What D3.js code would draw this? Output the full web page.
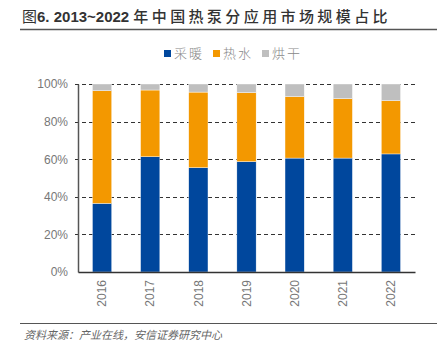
<!DOCTYPE html>
<meta charset="utf-8">
<style>
body { margin: 0; background: #fff; }
text { font-family: "Liberation Sans", Arial, "Noto Sans CJK SC", sans-serif; }
</style>
<svg width="444" height="349"></svg>
<script src="https://d3js.org/d3.v7.min.js"></script>
<script>
// data (percent)
var years = ["2016", "2017", "2018", "2019", "2020", "2021", "2022"];
var heating = [36.5, 61.3, 55.5, 58.7, 60.6, 60.6, 62.8];
var hotWater = [59.9, 35.5, 40.2, 36.7, 32.7, 31.6, 28.3];
var drying = [3.6, 3.2, 4.3, 4.6, 6.7, 7.8, 8.9];
var seriesNames = ["采暖", "热水", "烘干"];
var colours = ["#00479D", "#F39800", "#BFBFBF"];
var yTicks = [0, 20, 40, 60, 80, 100];

var svg = d3.select("svg");

var rows = years.map(function(y, i) {
  return { year: y, "采暖": heating[i], "热水": hotWater[i], "烘干": drying[i] };
});

var x = d3.scaleBand().domain(years).range([78, 415]).paddingInner(0.6).paddingOuter(0.3);
var y = d3.scaleLinear().domain([0, 100]).range([272, 84]);

// title
var title = svg.append("text")
  .attr("x", 22).attr("y", 22)
  .attr("font-size", 15).attr("fill", "#333");
title.append("tspan").attr("font-family", "Noto Sans CJK SC, sans-serif").text("图");
title.append("tspan").attr("font-weight", "bold").text("6. 2013~2022 ");
title.append("tspan").attr("font-family", "Noto Sans CJK SC, sans-serif")
  .attr("font-weight", 500)
  .attr("letter-spacing", 3.4).text("年中国热泵分应用市场规模占比");
svg.append("line").attr("x1", 20).attr("x2", 437).attr("y1", 29.5).attr("y2", 29.5)
  .attr("stroke", "#555").attr("stroke-width", 1.5);

// gridlines
svg.append("g").selectAll("line")
  .data(yTicks.slice(1))
  .enter().append("line")
  .attr("x1", 75).attr("x2", 415)
  .attr("y1", function(d) { return Math.round(y(d)) + 0.5; })
  .attr("y2", function(d) { return Math.round(y(d)) + 0.5; })
  .attr("stroke", "#333").attr("stroke-width", 1.2)
  .attr("stroke-dasharray", "4,3");

// bars
var stack = d3.stack().keys(seriesNames)(rows);
svg.append("g").selectAll("g")
  .data(stack)
  .enter().append("g")
  .attr("fill", function(d, i) { return colours[i]; })
  .selectAll("rect")
  .data(function(d) { return d; })
  .enter().append("rect")
  .attr("x", function(d) { return x(d.data.year); })
  .attr("width", x.bandwidth())
  .attr("y", function(d) { return y(d[1]); })
  .attr("height", function(d) { return y(d[0]) - y(d[1]); })
  .attr("stroke", "#fff").attr("stroke-width", 0.4);

// y axis
var yAxis = svg.append("g").attr("transform", "translate(78,0)")
  .call(d3.axisLeft(y).tickValues(yTicks).tickSize(0).tickPadding(10)
    .tickFormat(function(d) { return d + "%"; }));
yAxis.select(".domain").attr("stroke", "#555").attr("stroke-width", 1.5);
yAxis.selectAll("text").attr("font-size", 12).attr("fill", "#777")
  .attr("font-family", "Liberation Sans, Arial, sans-serif");

// x axis
var xAxis = svg.append("g").attr("transform", "translate(0,272)")
  .call(d3.axisBottom(x).tickSize(0).tickSizeOuter(0));
xAxis.select(".domain").attr("stroke", "#333").attr("stroke-width", 1.5);
xAxis.selectAll("text")
  .attr("font-size", 12).attr("fill", "#777")
  .attr("font-family", "Liberation Sans, Arial, sans-serif")
  .attr("transform", "rotate(-90)")
  .attr("text-anchor", "end")
  .attr("x", -8).attr("y", 0).attr("dy", "0.35em");

// legend
var legendX = [164, 213, 262];
var legend = svg.append("g").selectAll("g")
  .data(seriesNames)
  .enter().append("g")
  .attr("transform", function(d, i) { return "translate(" + legendX[i] + ",50)"; });
legend.append("rect").attr("width", 7).attr("height", 7)
  .attr("fill", function(d, i) { return colours[i]; });
legend.append("text").attr("x", 10).attr("y", 8)
  .attr("font-size", 13).attr("fill", "#888")
  .attr("font-family", "Noto Sans CJK SC, sans-serif").attr("font-weight", 300)
  .attr("letter-spacing", 2)
  .text(function(d) { return d; });

// footer
svg.append("line").attr("x1", 20).attr("x2", 437).attr("y1", 323.5).attr("y2", 323.5)
  .attr("stroke", "#555").attr("stroke-width", 1.2);
svg.append("text")
  .attr("x", 24).attr("y", 339)
  .attr("font-size", 11).attr("fill", "#666").attr("font-style", "italic")
  .attr("font-family", "Noto Sans CJK SC, sans-serif")
  .text("资料来源：产业在线，安信证券研究中心");
</script>
